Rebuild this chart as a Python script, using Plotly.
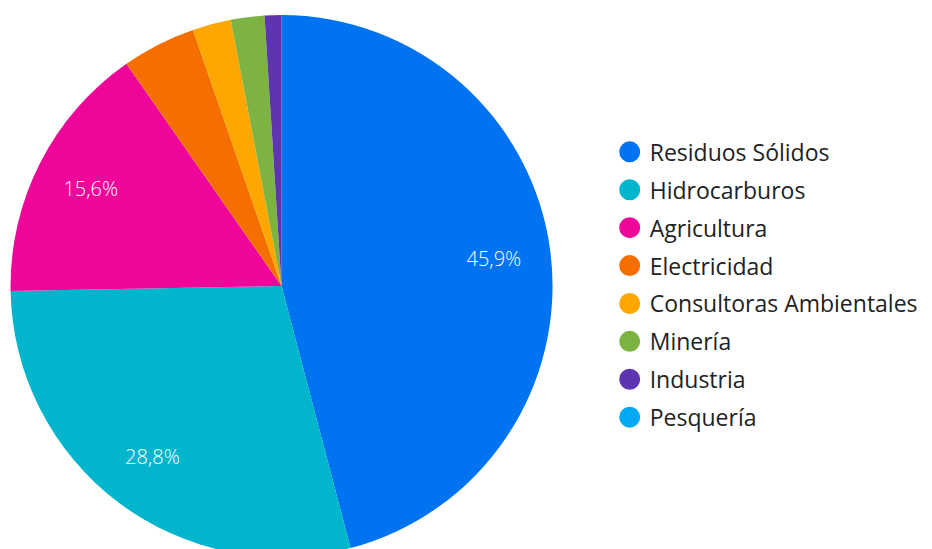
import plotly.graph_objects as go

categories = ["Residuos Sólidos", "Hidrocarburos", "Agricultura", "Electricidad",
              "Consultoras Ambientales", "Minería", "Industria", "Pesquería"]
values = [45.9, 28.8, 15.6, 4.4, 2.3, 2.0, 1.0, 0.0]
colors = ["#0073F0", "#00B5CC", "#EF0599", "#F46E00", "#FFA600", "#7CB342", "#5E35B1", "#03A9F4"]

FONT = "Open Sans"

labels_txt = [(f"{v:.1f}%".replace(".", ",") if v >= 10 else "") for v in values]
dom = dict(x=[0, 0.587], y=[0, 1])

fig = go.Figure()
fig.add_trace(go.Pie(
    labels=categories, values=values, textinfo="none",
    sort=False, direction="clockwise", rotation=0,
    marker=dict(colors=colors, line=dict(width=0)),
    domain=dom, showlegend=False, hoverinfo="label+percent",
))
# transparent ring carrying the percentage labels at ~0.8 of the radius
fig.add_trace(go.Pie(
    labels=categories, values=values, text=labels_txt, textinfo="text",
    sort=False, direction="clockwise", rotation=0, hole=0.58,
    marker=dict(colors=["rgba(0,0,0,0)"] * len(values), line=dict(width=0)),
    textposition="inside", insidetextorientation="horizontal",
    textfont=dict(color="white", size=20, family=FONT, weight=300),
    domain=dom, showlegend=False, hoverinfo="skip",
))
for i, (c, col) in enumerate(zip(categories, colors)):
    fig.add_trace(go.Scatter(
        x=[None], y=[None], mode="markers", name=c, legendgroup=str(i),
        marker=dict(symbol="circle", size=16, color=col, line=dict(color=col, width=5)),
        showlegend=True,
    ))

fig.update_layout(
    width=932, height=549,
    margin=dict(l=0, r=0, t=7, b=0),
    paper_bgcolor="white", plot_bgcolor="white",
    xaxis=dict(visible=False), yaxis=dict(visible=False),
    font=dict(family=FONT, color="#222222"),
    legend=dict(x=0.6456, y=0.502, xanchor="left", yanchor="middle",
                font=dict(size=23, family=FONT, color="#222222"),
                tracegroupgap=5, traceorder="grouped", itemsizing="trace"),
)
fig.write_html("out.html")
